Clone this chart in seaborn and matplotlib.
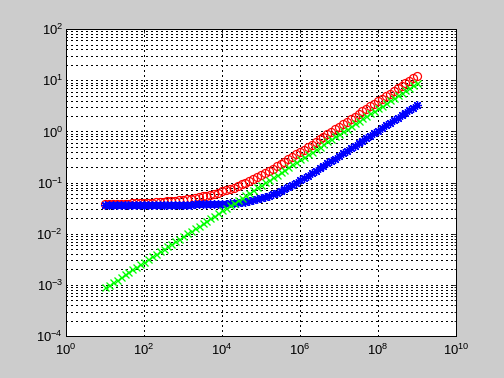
import numpy as np
import pandas as pd
import matplotlib
matplotlib.use("Agg")
import matplotlib.pyplot as plt
import matplotlib.ticker as mticker
import seaborn as sns

# ---- data ----
x_exp = [1.0, 1.1, 1.2, 1.3, 1.4, 1.5, 1.6, 1.7, 1.8, 1.9,
         2.0, 2.1, 2.2, 2.3, 2.4, 2.5, 2.6, 2.7, 2.8, 2.9,
         3.0, 3.1, 3.2, 3.3, 3.4, 3.5, 3.6, 3.7, 3.8, 3.9,
         4.0, 4.1, 4.2, 4.3, 4.4, 4.5, 4.6, 4.7, 4.8, 4.9,
         5.0, 5.1, 5.2, 5.3, 5.4, 5.5, 5.6, 5.7, 5.8, 5.9,
         6.0, 6.1, 6.2, 6.3, 6.4, 6.5, 6.6, 6.7, 6.8, 6.9,
         7.0, 7.1, 7.2, 7.3, 7.4, 7.5, 7.6, 7.7, 7.8, 7.9,
         8.0, 8.1, 8.2, 8.3, 8.4, 8.5, 8.6, 8.7, 8.8, 8.9,
         9.0]

red_vals = [0.0379, 0.0380, 0.0381, 0.0383, 0.0384, 0.0386, 0.0388, 0.0390, 0.0393, 0.0395,
            0.0399, 0.0402, 0.0406, 0.0410, 0.0415, 0.0421, 0.0427, 0.0434, 0.0442, 0.0451,
            0.0462, 0.0473, 0.0486, 0.0500, 0.0517, 0.0535, 0.0557, 0.0579, 0.0606, 0.0636,
            0.0670, 0.0708, 0.0751, 0.0801, 0.0857, 0.0921, 0.0993, 0.1075, 0.1169, 0.1276,
            0.1397, 0.1534, 0.1690, 0.1868, 0.2068, 0.2295, 0.2552, 0.2843, 0.3170, 0.3540,
            0.3955, 0.4423, 0.4950, 0.5543, 0.6209, 0.6957, 0.7797, 0.8741, 0.9800, 1.099,
            1.233, 1.383, 1.551, 1.740, 1.952, 2.189, 2.456, 2.756, 3.092, 3.469,
            3.892, 4.367, 4.900, 5.497, 6.168, 6.921, 7.765, 8.712, 9.775, 10.97,
            12.31]

blue_vals = [0.0370, 0.0370, 0.0370, 0.0370, 0.0370, 0.0370, 0.0370, 0.0370, 0.0370, 0.0370,
             0.0370, 0.0370, 0.0370, 0.0370, 0.0370, 0.0370, 0.0370, 0.0371, 0.0371, 0.0371,
             0.03715, 0.03719, 0.03724, 0.03730, 0.03738, 0.03747, 0.03758, 0.03773, 0.03792, 0.03815,
             0.03844, 0.03880, 0.03925, 0.03981, 0.04051, 0.04136, 0.04242, 0.04371, 0.04529, 0.04721,
             0.04950, 0.05225, 0.05552, 0.05939, 0.06392, 0.0692, 0.0753, 0.0824, 0.0905, 0.0998,
             0.110, 0.122, 0.136, 0.151, 0.169, 0.189, 0.211, 0.236, 0.264, 0.295,
             0.331, 0.371, 0.416, 0.466, 0.523, 0.586, 0.657, 0.737, 0.827, 0.928,
             1.04, 1.17, 1.31, 1.47, 1.65, 1.85, 2.08, 2.33, 2.61, 2.93,
             3.29]

green_vals = [0.000902, 0.001012, 0.001135, 0.001274, 0.001429, 0.001603, 0.001799, 0.002018, 0.002265, 0.002541,
              0.002851, 0.003199, 0.003589, 0.004027, 0.004519, 0.005070, 0.005689, 0.006383, 0.007162, 0.008036,
              0.009016, 0.01012, 0.01135, 0.01274, 0.01429, 0.01603, 0.01799, 0.02019, 0.02265, 0.02541,
              0.02851, 0.03199, 0.03590, 0.04028, 0.04519, 0.05070, 0.05689, 0.06383, 0.07162, 0.08036,
              0.09017, 0.1012, 0.1135, 0.1274, 0.1429, 0.1603, 0.1799, 0.2019, 0.2265, 0.2541,
              0.2851, 0.3199, 0.3590, 0.4028, 0.4519, 0.5071, 0.5689, 0.6384, 0.7162, 0.8036,
              0.9017, 1.012, 1.135, 1.274, 1.429, 1.603, 1.799, 2.019, 2.265, 2.541,
              2.851, 3.199, 3.590, 4.028, 4.519, 5.071, 5.689, 6.384, 7.162, 8.036,
              9.017]

xtick_exps = [0, 2, 4, 6, 8, 10]
ytick_exps = [-4, -3, -2, -1, 0, 1, 2]

# ---- style ----
sns.set_style("white")
plt.rcParams["font.family"] = ["Liberation Sans", "DejaVu Sans"]
plt.rcParams["mathtext.fontset"] = "custom"
plt.rcParams["mathtext.rm"] = "Liberation Sans"
plt.rcParams["mathtext.it"] = "Liberation Sans"
plt.rcParams["mathtext.default"] = "regular"

x_vals = [10 ** e for e in x_exp]
df = pd.DataFrame({"x": x_vals, "red": red_vals, "blue": blue_vals, "green": green_vals})

fig = plt.figure(figsize=(7, 5.25), dpi=72, facecolor="#cccccc")
ax = fig.add_axes([0.131, 0.111, 0.774, 0.812])
ax.set_facecolor("white")

common = dict(ax=ax, linestyle="none", estimator=None, sort=False, legend=False)
sns.lineplot(data=df, x="x", y="red", marker="o", markersize=8, markerfacecolor="none",
             markeredgecolor="red", markeredgewidth=1.2, color="red", **common)
sns.lineplot(data=df, x="x", y="blue", marker=(8, 2, 0), markersize=9,
             markeredgecolor="blue", markeredgewidth=1.3, color="blue", **common)
sns.lineplot(data=df, x="x", y="green", marker="x", markersize=7,
             markeredgecolor="#00ff00", markeredgewidth=1.3, color="#00ff00", **common)

ax.set_xscale("log")
ax.set_yscale("log")
ax.set_xlim(1, 1e10)
ax.set_ylim(1e-4, 1e2)

ax.xaxis.set_major_locator(mticker.FixedLocator([10.0 ** e for e in xtick_exps]))
ax.xaxis.set_minor_locator(mticker.NullLocator())
ax.set_xticklabels([f"$10^{{{e}}}$" for e in xtick_exps])
ax.yaxis.set_major_locator(mticker.FixedLocator([10.0 ** e for e in ytick_exps]))
ax.yaxis.set_minor_locator(mticker.LogLocator(base=10, subs=np.arange(2, 10), numticks=20))
ax.yaxis.set_minor_formatter(mticker.NullFormatter())
ax.set_yticklabels([f"$10^{{{e}}}$" for e in ytick_exps])

ax.tick_params(which="both", direction="in", top=True, right=True, labelsize=13, colors="black")
ax.tick_params(axis="x", which="major", pad=7)
ax.tick_params(axis="y", which="major", pad=3)
ax.tick_params(which="major", length=4, width=0.8)
ax.tick_params(which="minor", length=2, width=0.8)
ax.grid(which="major", axis="both", linestyle=(0, (1, 3)), color="black",
        linewidth=1.0, antialiased=False)
ax.grid(which="minor", axis="y", linestyle=(0, (1, 3)), color="black",
        linewidth=1.0, antialiased=False)
ax.set_xlabel("")
ax.set_ylabel("")
for s in ax.spines.values():
    s.set_color("black")
    s.set_linewidth(1.0)
ax.set_axisbelow(True)

fig.savefig("out.png", dpi=72, facecolor=fig.get_facecolor())
